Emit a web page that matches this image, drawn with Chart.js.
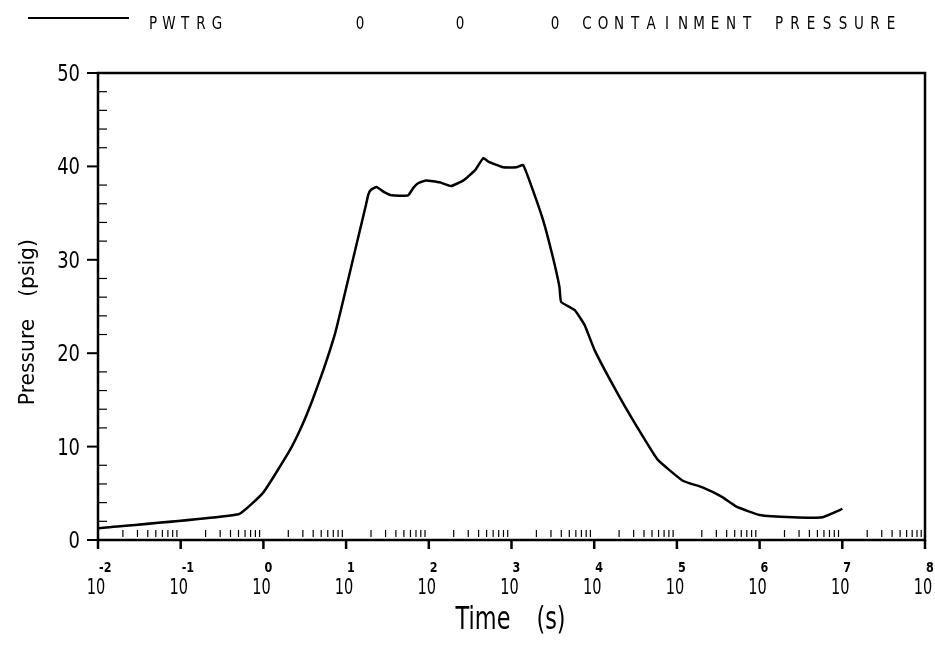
<!DOCTYPE html>
<html lang="en">
<head>
<meta charset="UTF-8" />
<title>Containment Pressure</title>
<script src="https://cdn.jsdelivr.net/npm/chart.js"></script>
<style>
  body { margin: 0; background: #fff; }
</style>
</head>
<body>
<canvas id="grafica" width="935" height="645"></canvas>
<script>
// time (s) and pressure (psig)
const timeS = [0.01, 0.5, 1, 2.04, 2.88, 3.85, 5.31, 7.35, 9.25, 17.4, 18.6, 20, 23.4, 28.2, 35.5, 56.2,
  65, 74.1, 93.3, 135, 186, 263, 363, 457, 525, 794, 1148, 1380, 1660, 2400, 3160, 3800, 3980,
  5820, 7670, 10140, 20300, 38900, 58900, 117500, 204000, 347000, 525000, 1000000,
  2510000, 5750000, 9330000, 10000000];
const pressurePsig = [1.25, 2.75, 5.1, 9.45, 12.1, 14.8, 18.2, 22.1, 25.7, 35.9, 37.0, 37.5, 37.8, 37.3, 36.9, 36.9,
  37.7, 38.2, 38.5, 38.3, 37.9, 38.5, 39.6, 40.9, 40.5, 39.9, 39.9, 40.15, 38.4, 34.3, 30.3, 27.1, 25.5,
  24.6, 23.0, 20.3, 15.3, 11.06, 8.57, 6.35, 5.64, 4.64, 3.57, 2.68,
  2.43, 2.43, 3.2, 3.35];

const xExponents = [-2, -1, 0, 1, 2, 3, 4, 5, 6, 7, 8];
const yTickValues = [0, 10, 20, 30, 40, 50];

const FONT = '"DejaVu Sans", sans-serif';

function txt(ctx, s, x, y, size, sx, align, bold) {
  ctx.save();
  ctx.translate(x, y);
  ctx.scale(sx, 1);
  ctx.font = (bold ? 'bold ' : '') + size + 'px ' + FONT;
  ctx.textAlign = align;
  ctx.textBaseline = 'alphabetic';
  ctx.fillStyle = '#000';
  ctx.fillText(s, 0, 0);
  ctx.restore();
}

// letters on a fixed pitch, like the plotter font
function spaced(ctx, s, x0, pitch, y) {
  for (let i = 0; i < s.length; i++) {
    if (s[i] !== ' ') txt(ctx, s[i], x0 + i * pitch, y, 18, 0.75, 'center');
  }
}

function line(ctx, x1, y1, x2, y2, w) {
  ctx.beginPath();
  ctx.lineWidth = w;
  ctx.moveTo(x1, y1);
  ctx.lineTo(x2, y2);
  ctx.stroke();
}

const marco = {
  id: 'marco',
  afterDraw(chart) {
    const ctx = chart.ctx;
    const a = chart.chartArea;
    const xs = chart.scales.x;
    const ys = chart.scales.y;
    ctx.save();
    ctx.strokeStyle = '#000';

    // header
    line(ctx, 28, 18, 129, 18, 2);
    spaced(ctx, 'PWTRG', 153, 16, 29);
    spaced(ctx, '0', 360, 16, 29);
    spaced(ctx, '0', 460, 16, 29);
    spaced(ctx, '0 CONTAINMENT PRESSURE', 555, 16, 29);

    // frame
    ctx.lineWidth = 2.5;
    ctx.strokeRect(a.left, a.top, a.right - a.left, a.bottom - a.top);

    // y ticks
    for (let v = 0; v <= 50; v += 2) {
      const py = ys.getPixelForValue(v);
      if (v % 10 === 0) line(ctx, a.left - 11, py, a.left, py, 2);
      else line(ctx, a.left, py, a.left + 9, py, 1.2);
    }
    yTickValues.forEach(v => {
      txt(ctx, String(v), 80, ys.getPixelForValue(v) + 8, 23, 0.78, 'right');
    });

    // x ticks
    xExponents.forEach(e => {
      const px = xs.getPixelForValue(Math.pow(10, e));
      line(ctx, px, a.bottom, px, a.bottom + 9, 2.5);
      txt(ctx, '10', px - 2, 594, 22, 0.66, 'center');
      txt(ctx, e < 0 ? '-' + (-e) : String(e), px + 1, 572, 14, 0.8, 'left', true);
      if (e < 8) {
        for (let m = 2; m <= 9; m++) {
          const mx = xs.getPixelForValue(m * Math.pow(10, e));
          line(ctx, mx, a.bottom - 10, mx, a.bottom - 3, 1.2);
        }
      }
    });

    // axis titles
    txt(ctx, 'Time', 483, 629, 32, 0.7, 'center');
    txt(ctx, '(s)', 551, 629, 32, 0.7, 'center');
    ctx.save();
    ctx.translate(34, 0);
    ctx.rotate(-Math.PI / 2);
    txt(ctx, 'Pressure', -362, 0, 22, 0.92, 'center');
    txt(ctx, '(psig)', -268, 0, 22, 0.92, 'center');
    ctx.restore();

    ctx.restore();
  }
};

const datos = timeS.map((t, i) => ({ x: t, y: pressurePsig[i] }));

new Chart(document.getElementById('grafica').getContext('2d'), {
  type: 'line',
  data: {
    datasets: [{
      label: 'PWTRG',
      data: datos,
      borderColor: '#000',
      borderWidth: 2.5,
      pointRadius: 0,
      fill: false,
      tension: 0.12
    }]
  },
  options: {
    responsive: false,
    animation: false,
    devicePixelRatio: 1,
    layout: { padding: { top: 73, right: 10, left: 0, bottom: 0 } },
    plugins: { legend: { display: false }, tooltip: { enabled: false } },
    scales: {
      x: {
        type: 'logarithmic',
        min: 0.01,
        max: 1e8,
        ticks: { display: false },
        grid: { display: false },
        border: { display: false },
        afterFit: s => { s.height = 105; }
      },
      y: {
        min: 0,
        max: 50,
        ticks: { display: false, stepSize: 10 },
        grid: { display: false },
        border: { display: false },
        afterFit: s => { s.width = 98; }
      }
    }
  },
  plugins: [marco]
});
</script>
</body>
</html>
